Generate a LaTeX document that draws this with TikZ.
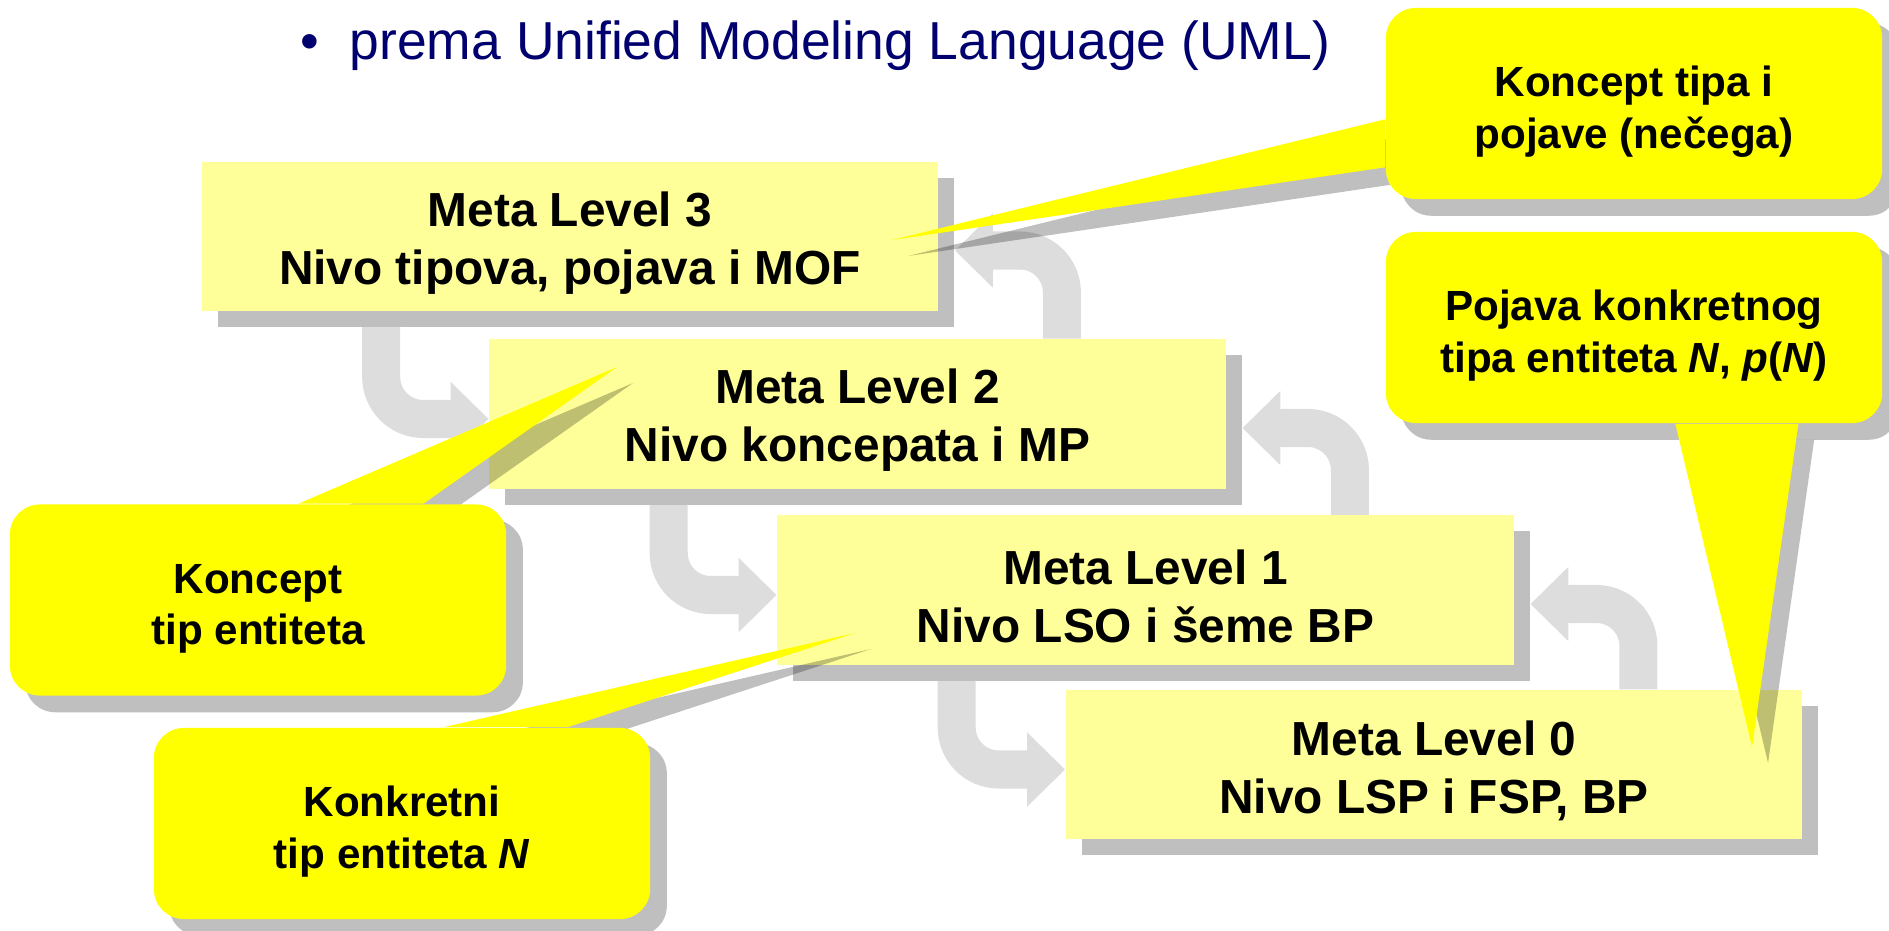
\documentclass[tikz,border=0pt]{standalone}
\usepackage{fontspec}
\setmainfont{Liberation Sans}
\usetikzlibrary{arrows.meta,shadows}
\definecolor{boxyellow}{RGB}{255,255,153}
\definecolor{noteyellow}{RGB}{255,255,0}
\definecolor{shadowgray}{RGB}{191,191,191}
\definecolor{flowgray}{RGB}{221,221,221}
\definecolor{titleblue}{RGB}{0,0,110}
\pgfdeclarelayer{back}
\pgfdeclarelayer{shade}
\pgfdeclarelayer{front}
\pgfsetlayers{back,main,shade,front}
\newcommand{\topgap}{\rule{0pt}{0.47cm}}
\tikzset{
  metabox/.style={fill=boxyellow, minimum width=7.36cm, minimum height=1.49cm, align=center,
    font=\fontsize{13.6}{16.5}\selectfont\bfseries,
    drop shadow={shadow xshift=0.16cm, shadow yshift=-0.16cm, fill=shadowgray, opacity=1}},
  notebox/.style={fill=noteyellow, rounded corners=0.3cm, minimum width=4.96cm, minimum height=1.91cm,
    align=center, font=\fontsize{12}{14.7}\selectfont\bfseries},
  noteshade/.style={fill=black, fill opacity=0.25},
  flowarrow/.style={draw=flowgray, line width=0.38cm, rounded corners=0.42cm,
    -{Triangle[width=0.72cm,length=0.38cm]}},
  titletext/.style={text=titleblue, font=\fontsize{15.2}{17}\selectfont, inner sep=0pt}
}
\begin{document}
\begin{tikzpicture}[x=0.01cm,y=-0.01cm]
  \useasboundingbox (0,0) rectangle (1889,931);
  % heading
  \node[titletext, anchor=base] (bullet) at (310,60) {•};
  \node[titletext, anchor=base west] (title) at (349,60) {prema Unified Modeling Language (UML)};
  % meta levels
  \node[metabox] (ml3) at (570,236.5) {\topgap Meta Level 3\\Nivo tipova, pojava i MOF};
  \node[metabox] (ml2) at (857.5,414) {\topgap Meta Level 2\\Nivo koncepata i MP};
  \node[metabox] (ml1) at (1145.5,590) {\topgap Meta Level 1\\Nivo LSO i šeme BP};
  \node[metabox] (ml0) at (1434,764.5) {\topgap Meta Level 0\\Nivo LSP i FSP, BP};
  % grey arrows between the levels
  \begin{pgfonlayer}{back}
    \draw[flowarrow] ([xshift=1.8cm]ml3.south west) |- ([yshift=-0.05cm]ml2.west);
    \draw[flowarrow] ([xshift=1.8cm]ml2.south west) |- ([yshift=-0.05cm]ml1.west);
    \draw[flowarrow] ([xshift=1.8cm]ml1.south west) |- ([yshift=-0.05cm]ml0.west);
    \draw[flowarrow] ([xshift=5.73cm]ml0.north west) |- ([xshift=0.16cm,yshift=-0.14cm]ml1.east);
    \draw[flowarrow] ([xshift=5.73cm]ml1.north west) |- ([xshift=0.16cm,yshift=-0.14cm]ml2.east);
    \draw[flowarrow] ([xshift=5.73cm]ml2.north west) |- ([xshift=0.16cm,yshift=-0.14cm]ml3.east);
  \end{pgfonlayer}
  % callouts
  \coordinate (t1) at (892,240);
  \coordinate (t2) at (1752,747);
  \coordinate (t3) at (617,367);
  \coordinate (t4) at (855,633);
  \begin{pgfonlayer}{front}
    \node[notebox] (c1) at (1634,103.5) {\topgap Koncept tipa i\\pojave (nečega)};
    \node[notebox] (c2) at (1634,327.5) {\topgap Pojava konkretnog\\tipa entiteta \textit{N}, \textit{p}(\textit{N})};
    \node[notebox] (c3) at (258,600) {\topgap Koncept\\tip entiteta};
    \node[notebox] (c4) at (402,823.5) {\topgap Konkretni\\tip entiteta \textit{N}};
    \fill[noteyellow] ([yshift=-1.12cm]c1.north west) -- (t1) -- ([yshift=-1.6cm]c1.north west) -- cycle;
    \fill[noteyellow] ([xshift=2.9cm]c2.south west) -- (t2) -- ([xshift=4.13cm]c2.south west) -- cycle;
    \fill[noteyellow] ([xshift=2.89cm]c3.north west) -- (t3) -- ([xshift=4.14cm]c3.north west) -- cycle;
    \fill[noteyellow] ([xshift=2.9cm]c4.north west) -- (t4) -- ([xshift=4.14cm]c4.north west) -- cycle;
  \end{pgfonlayer}
  % callout shadows
  \begin{pgfonlayer}{shade}
    \foreach \c in {c1,c2,c3,c4}
      \fill[noteshade, rounded corners=0.3cm] ([shift={(16,16)}]\c.north west) rectangle ([shift={(16,16)}]\c.south east);
    \fill[noteshade] ([shift={(16,128)}]c1.north west) -- ([shift={(16,16)}]t1) -- ([shift={(16,176)}]c1.north west) -- cycle;
    \fill[noteshade] ([shift={(306,16)}]c2.south west) -- ([shift={(16,16)}]t2) -- ([shift={(429,16)}]c2.south west) -- cycle;
    \fill[noteshade] ([shift={(305,16)}]c3.north west) -- ([shift={(16,16)}]t3) -- ([shift={(430,16)}]c3.north west) -- cycle;
    \fill[noteshade] ([shift={(306,16)}]c4.north west) -- ([shift={(16,16)}]t4) -- ([shift={(430,16)}]c4.north west) -- cycle;
  \end{pgfonlayer}
\end{tikzpicture}
\end{document}
